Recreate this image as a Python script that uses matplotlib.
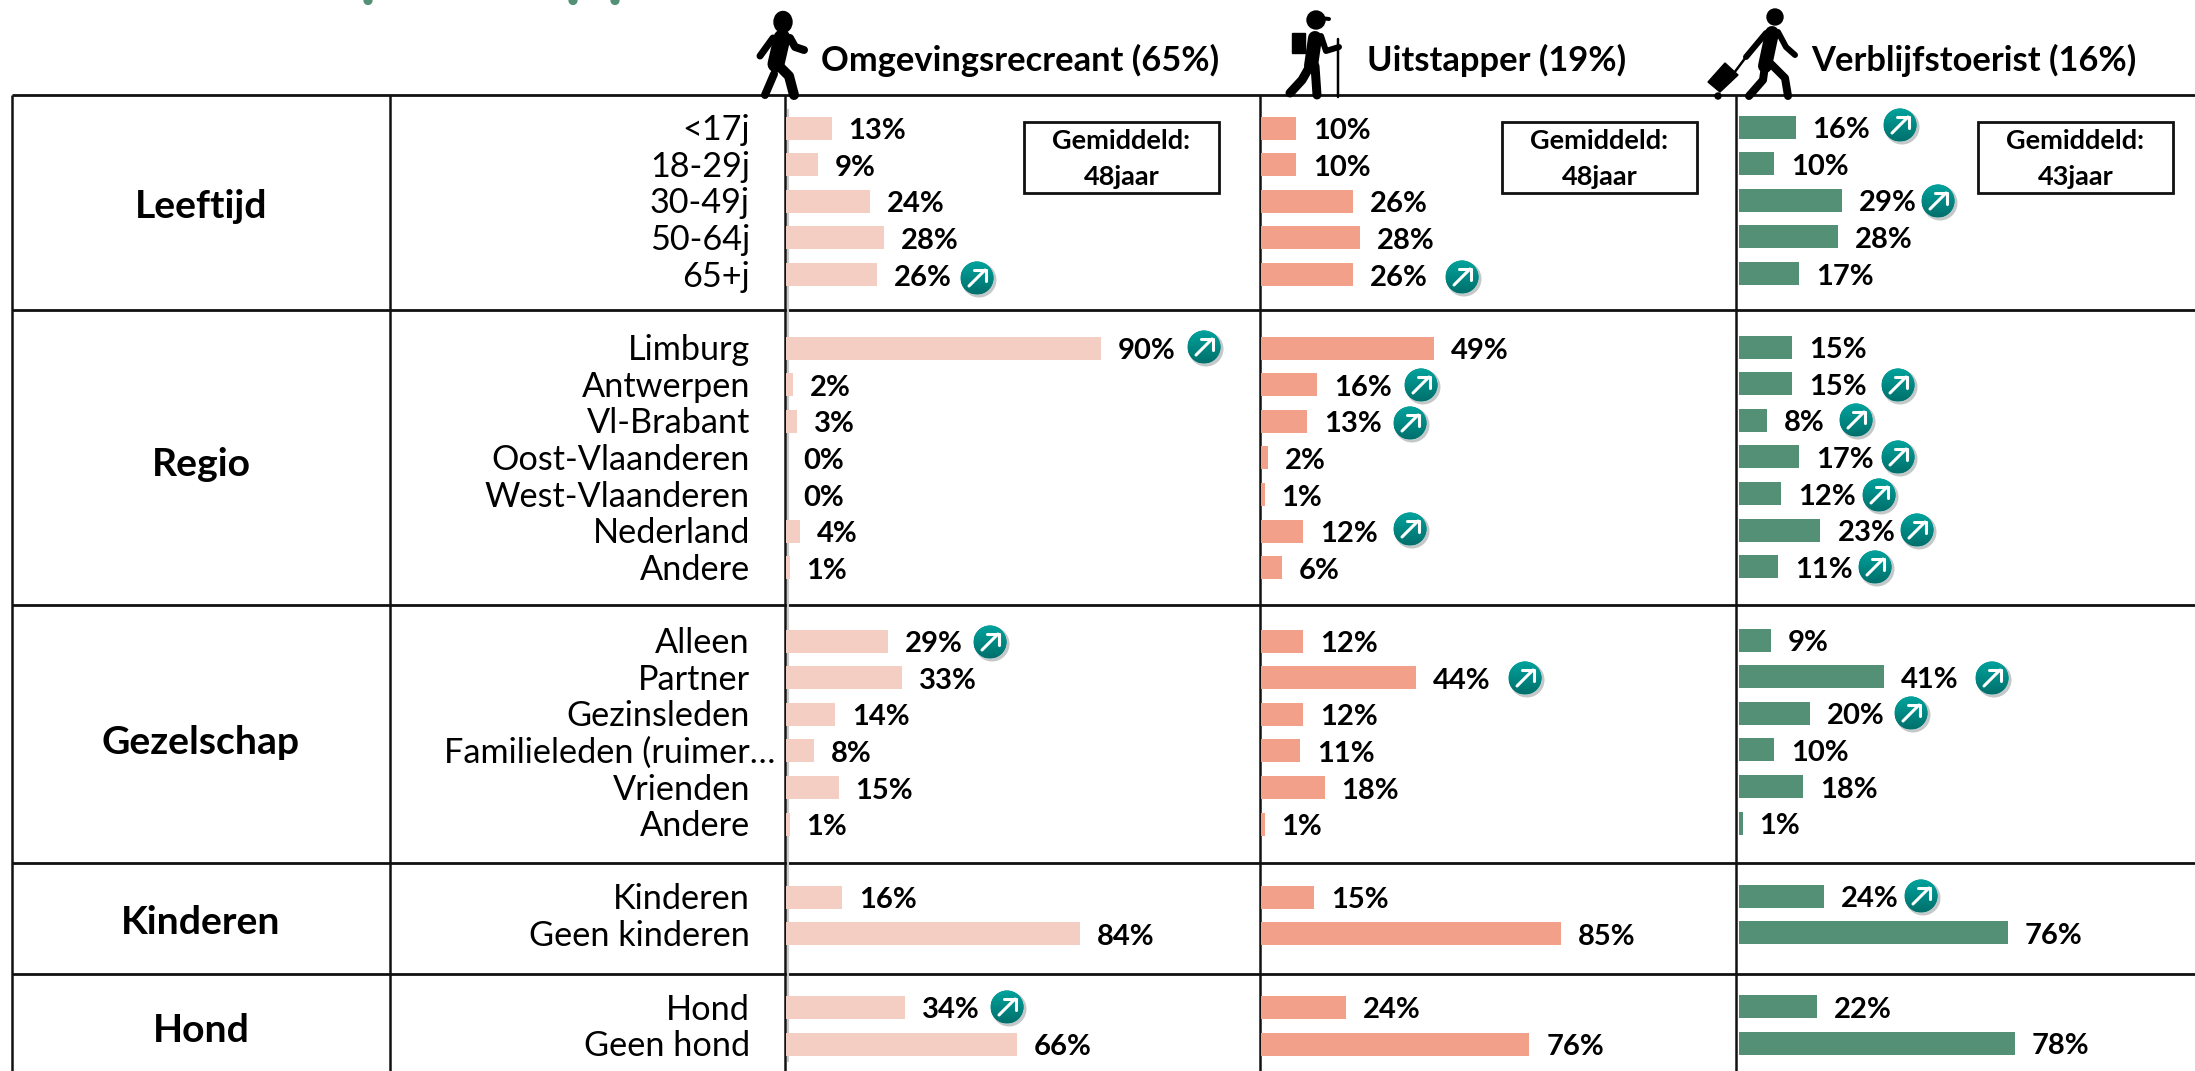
import numpy as np
import matplotlib
matplotlib.use("Agg")
import matplotlib.pyplot as plt
from matplotlib.patches import Circle, Ellipse, Polygon, Rectangle

plt.rcParams['font.family'] = ['Lato', 'DejaVu Sans']

W, H = 2195, 1071

# ---------- data ----------
groups = ["Leeftijd", "Regio", "Gezelschap", "Kinderen", "Hond"]
cat_leeftijd = ["<17j", "18-29j", "30-49j", "50-64j", "65+j"]
cat_regio = ["Limburg", "Antwerpen", "Vl-Brabant", "Oost-Vlaanderen", "West-Vlaanderen", "Nederland", "Andere"]
cat_gezelschap = ["Alleen", "Partner", "Gezinsleden", "Familieleden (ruimer\u2026", "Vrienden", "Andere"]
cat_kinderen = ["Kinderen", "Geen kinderen"]
cat_hond = ["Hond", "Geen hond"]
categories = [cat_leeftijd, cat_regio, cat_gezelschap, cat_kinderen, cat_hond]

omgevingsrecreant = [13, 9, 24, 28, 26,
                     90, 2, 3, 0, 0, 4, 1,
                     29, 33, 14, 8, 15, 1,
                     16, 84,
                     34, 66]
uitstapper = [10, 10, 26, 28, 26,
              49, 16, 13, 2, 1, 12, 6,
              12, 44, 12, 11, 18, 1,
              15, 85,
              24, 76]
verblijfstoerist = [16, 10, 29, 28, 17,
                    15, 15, 8, 17, 12, 23, 11,
                    9, 41, 20, 10, 18, 1,
                    24, 76,
                    22, 78]
series_names = ["Omgevingsrecreant (65%)", "Uitstapper (19%)", "Verblijfstoerist (16%)"]
gemiddeld = ["48jaar", "48jaar", "43jaar"]
series = [omgevingsrecreant, uitstapper, verblijfstoerist]

# ---------- layout (pixels) ----------
FS_CAT, FS_VAL, FS_HEAD, FS_GROUP, FS_BOX = 24.7, 21, 24.8, 28.2, 19.5
colors = ["#F4CEC3", "#F2A08A", "#539076"]
col_start = [786, 1261, 1739]
px_per_pct = [3.50, 3.53, 3.54]
row_first = [128, 348, 641, 897, 1007.5]
row_step = 36.65
bar_h = 23
hlines = [95, 310, 605, 863, 974]
vlines = [12, 390, 785, 1260, 1736]
group_y = [206, 465, 742, 923, 1030]
col_yshift = [0, 0, -1]
box_x = [(1024, 1219), (1502, 1697), (1978, 2173)]
head_x = [821, 1367, 1811]
arrows = [
    [(977, 278), (1204, 347), (990, 642), (1007, 1007)],
    [(1462, 277), (1421, 385), (1410, 423), (1410, 529), (1525, 678)],
    [(1900, 125), (1938, 201), (1898, 385), (1856, 420), (1898, 457),
     (1879, 495), (1917, 530), (1875, 567), (1992, 678), (1911, 713), (1921, 896)],
]

fig = plt.figure(figsize=(W / 100, H / 100), dpi=100, facecolor="white")
bg = fig.add_axes([0, 0, 1, 1])
bg.set_xlim(0, W); bg.set_ylim(H, 0); bg.axis("off")

# row centres
row_y = []
for first, cats in zip(row_first, categories):
    row_y += [first + i * row_step for i in range(len(cats))]
row_y = np.array(row_y)

# category and group labels
all_cats = [c for cats in categories for c in cats]
for y, c in zip(row_y, all_cats):
    xr = 775 if c.endswith("\u2026") else 750
    bg.text(xr, y + 2, c, ha="right", va="center", fontsize=FS_CAT, color="black")
for g, y in zip(groups, group_y):
    bg.text(201, y, g, ha="center", va="center", fontsize=FS_GROUP, fontweight="bold", color="black")

# table grid
for y in hlines:
    bg.plot([12, W], [y, y], color="#111111", lw=2.0, solid_capstyle="butt", zorder=3)
for x in vlines:
    bg.plot([x, x], [95, H], color="#111111", lw=1.8, solid_capstyle="butt", zorder=3)
bg.plot([787.5, 787.5], [110, 1061], color="#C9C9C9", lw=1.5, zorder=3.5)

# clipped title descenders at top
for x in (368, 573, 615):
    bg.add_patch(Circle((x, 0.5), 4.6, color="#539076", lw=0))

# bars
for k, vals in enumerate(series):
    x0, scale = col_start[k], px_per_pct[k]
    span = W - x0
    ax = fig.add_axes([x0 / W, 0, span / W, 1])
    ax.set_xlim(0, span / scale); ax.set_ylim(H, 0); ax.axis("off"); ax.patch.set_alpha(0)
    ys = row_y + col_yshift[k]
    ax.barh(ys, vals, height=bar_h, color=colors[k], linewidth=0, zorder=4)
    for y, v in zip(ys, vals):
        ax.annotate(f"{v}%", (v, y + 3), xytext=(17 * 0.72, 0), textcoords="offset points",
                    ha="left", va="center", fontsize=FS_VAL, fontweight="bold", color="black",
                    annotation_clip=False)

ov = fig.add_axes([0, 0, 1, 1], zorder=10)
ov.set_xlim(0, W); ov.set_ylim(H, 0); ov.axis("off"); ov.patch.set_alpha(0)

# header text and boxes
for x, name in zip(head_x, series_names):
    ov.text(x, 60, name, ha="left", va="center", fontsize=FS_HEAD, fontweight="bold", color="black")
for (a, b), g in zip(box_x, gemiddeld):
    ov.add_patch(Rectangle((a, 122), b - a, 71, fc="white", ec="#111111", lw=2.0))
    ov.text((a + b) / 2, 141, "Gemiddeld:", ha="center", va="center", fontsize=FS_BOX, fontweight="bold")
    ov.text((a + b) / 2, 177, g, ha="center", va="center", fontsize=FS_BOX, fontweight="bold")

# trend arrows
grad = np.linspace(0, 1, 40)[:, None]
cmap = matplotlib.colors.LinearSegmentedColormap.from_list("t", ["#00A39D", "#00706C"])
R = 16.5
for col in arrows:
    for cx, cy in col:
        ov.add_patch(Circle((cx + 2, cy + 2), R + 1, fc="#C4C8C8", ec="none"))
        c = Circle((cx, cy), R, fc="#00908B", ec="none")
        ov.add_patch(c)
        im = ov.imshow(grad, extent=(cx - R, cx + R, cy + R, cy - R), cmap=cmap, aspect="auto", zorder=2)
        im.set_clip_path(c)
        for (x1, y1, x2, y2) in [(-8, 8, 8, -8), (-3, -8.5, 8.5, -8.5), (8.5, -8.5, 8.5, 3)]:
            ov.plot([cx + x1, cx + x2], [cy + y1, cy + y2], color="white", lw=2.2, zorder=3,
                    solid_capstyle="round")
ov.set_xlim(0, W); ov.set_ylim(H, 0)


def limb(pts, w):
    p = np.array(pts, float)
    ov.plot(p[:, 0], p[:, 1], color="black", lw=w * 0.72, solid_capstyle="round",
            solid_joinstyle="round", zorder=6)


# walker
ov.add_patch(Ellipse((783, 22), 18, 21, color="black", zorder=6))
limb([(782, 38), (776, 64)], 17)
limb([(773, 38), (760, 56)], 7)
limb([(790, 38), (795, 47), (804, 50)], 8)
limb([(777, 64), (789, 76), (794, 95)], 10)
limb([(774, 74), (765, 95)], 8)
# hiker
ov.add_patch(Circle((1316, 20), 9, color="black", zorder=6))
limb([(1320, 18), (1329, 19)], 4)
limb([(1315, 38), (1311, 66)], 14)
ov.add_patch(Rectangle((1292, 33), 13, 20, color="black", zorder=6))
limb([(1321, 36), (1326, 51), (1339, 47)], 6)
limb([(1338, 39), (1338, 97)], 2.5)
limb([(1310, 66), (1302, 80), (1290, 93)], 9)
limb([(1315, 66), (1317, 95)], 9)
# tourist
ov.add_patch(Circle((1775, 17), 8, color="black", zorder=6))
limb([(1772, 33), (1765, 66)], 14)
limb([(1778, 32), (1786, 47), (1795, 55)], 6)
limb([(1766, 33), (1746, 57)], 6)
limb([(1746, 57), (1731, 77)], 2.5)
ov.add_patch(Polygon([(1708, 82), (1725, 63), (1738, 75), (1720, 92)], color="black", zorder=6))
ov.add_patch(Circle((1718, 96), 3, color="black", zorder=6))
limb([(1765, 66), (1763, 80), (1749, 96)], 8)
limb([(1771, 64), (1785, 78), (1788, 96)], 8)

fig.savefig("out.png", dpi=100, facecolor="white")
